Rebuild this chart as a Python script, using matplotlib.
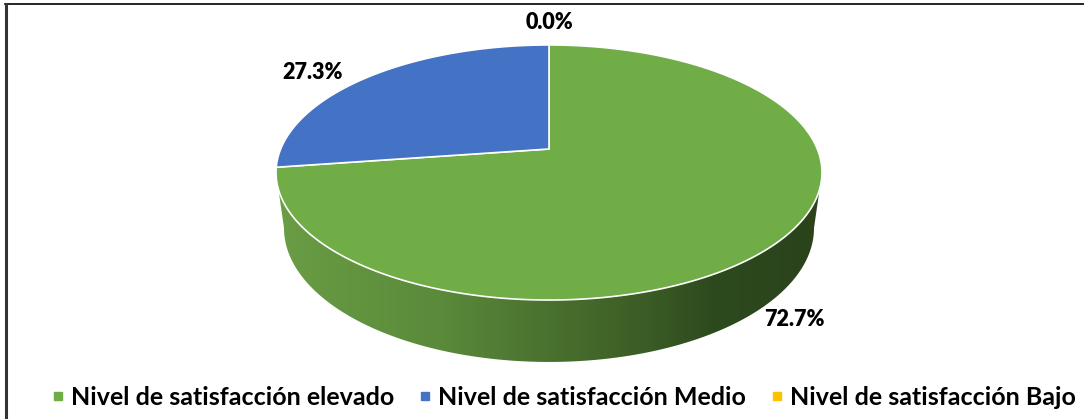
import numpy as np
import matplotlib.pyplot as plt
from matplotlib.colors import LinearSegmentedColormap
from matplotlib.lines import Line2D
from matplotlib.patches import Polygon

# data
categories = ['Nivel de satisfacción elevado', 'Nivel de satisfacción Medio', 'Nivel de satisfacción Bajo']
values = [72.7, 27.3, 0.0]
colors = ['#70AD47', '#4472C4', '#FFC000']

# perspective set-up for the 3d pie (pixel space, y downwards)
W, H = 1084, 419
cx, cy = 549, 149
A, B, K = 268.3, -123.2, 0.1843   # top face
Q, D = 0.0291, 56.7               # bottom face (depth)


def top_pt(t, r=1.0):
    x, z = r * np.cos(t), r * np.sin(t)
    w = 1 + K * z
    return cx + A * x / w, cy + B * z / w


def bot_pt(t, r=1.0):
    x, z = r * np.cos(t), r * np.sin(t)
    w = 1 + Q + K * z
    return cx + A * x / w, cy + (B * z + D) / w


plt.rcParams['font.family'] = ['Lato', 'DejaVu Sans']
fig = plt.figure(figsize=(W / 100, H / 100), dpi=100)
ax = fig.add_axes([0, 0, 1, 1])
ax.set_xlim(0, W)
ax.set_ylim(H, 0)
ax.axis('off')

# side wall (only the front of the green slice shows)
t_l = np.pi + np.arcsin(K)
t_r = 2 * np.pi - np.arcsin(K)
tb_l = np.pi + np.arcsin(K / (1 + Q))
tb_r = 2 * np.pi - np.arcsin(K / (1 + Q))
tt = np.linspace(t_l, t_r, 200)
tb = np.linspace(tb_r, tb_l, 200)
side = np.vstack([np.column_stack(top_pt(tt)), np.column_stack(bot_pt(tb))])
side_poly = Polygon(side, closed=True, facecolor='none', edgecolor='none')
ax.add_patch(side_poly)

side_cmap = LinearSegmentedColormap.from_list(
    'side', [(0, '#6a9d45'), (0.3, '#5a8a3a'), (0.5, '#4a712f'),
             (0.68, '#3b5c25'), (0.8, '#2d4a1e'), (1, '#2b421b')])
x0, x1 = side[:, 0].min(), side[:, 0].max()
y0, y1 = side[:, 1].min(), side[:, 1].max()
grad = np.linspace(0, 1, 256).reshape(1, -1)
im = ax.imshow(grad, cmap=side_cmap, extent=[x0, x1, y1, y0], aspect='auto', zorder=1)
im.set_clip_path(side_poly)

# top faces, clockwise from 12 o'clock
start = np.pi / 2
mids = []
for val, col in zip(values, colors):
    sweep = 2 * np.pi * val / sum(values)
    end = start - sweep
    mids.append(start - sweep / 2)
    if sweep > 0:
        ts = np.linspace(start, end, max(int(abs(sweep) * 80), 2))
        pts = np.vstack([[cx, cy], np.column_stack(top_pt(ts))])
        ax.add_patch(Polygon(pts, closed=True, facecolor=col, edgecolor='white',
                             linewidth=1.2, joinstyle='round', zorder=2))
    start = end

# data labels, anchored on the rim at each slice's mid angle
label_off = [(22, -19), (-55, 5), (0, 22)]
for i, (val, m) in enumerate(zip(values, mids)):
    anchor = bot_pt(m) if i == 0 else top_pt(m)
    ax.annotate(f'{val:.1f}%', xy=anchor, xytext=label_off[i], textcoords='offset pixels',
                ha='center', va='center', fontsize=15.5, fontweight='heavy', color='black', zorder=3)

# legend
handles = [Line2D([], [], marker='s', linestyle='none', markersize=6,
                  markerfacecolor=c, markeredgecolor=c) for c in colors]
fig.legend(handles, categories, loc='center', bbox_to_anchor=(0.519, 1 - 397 / H), ncol=3,
           frameon=False, prop={'size': 18, 'weight': 'bold'}, handletextpad=0.15,
           columnspacing=0.9, handlelength=0.7)

# chart border (top and left edges visible)
ax.add_line(Line2D([5, W], [4, 4], color='black', linewidth=1.2))
ax.add_line(Line2D([6, 6], [4, H], color='#333333', linewidth=2.2))

fig.savefig('out.png', dpi=100)
